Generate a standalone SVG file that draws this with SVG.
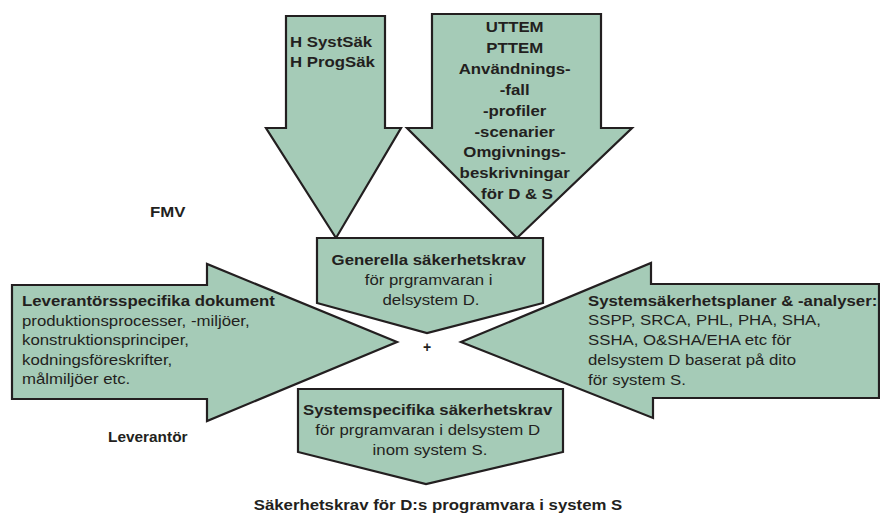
<svg xmlns="http://www.w3.org/2000/svg" width="880" height="513" viewBox="0 0 880 513">
  <style>
    .shape { fill: #a5cbb7; stroke: #231f20; stroke-width: 2.2; stroke-linejoin: miter; }
    text { font-family: "Liberation Sans", Arial, sans-serif; font-size: 14px; fill: #231f20; }
    .b { font-weight: bold; }
    .mid { text-anchor: middle; }
  </style>
  <rect width="880" height="513" fill="#ffffff"/>

  <!-- Top left input arrow -->
  <g id="node-hsyst">
    <polygon class="shape" points="286,16 385,16 385,128 401,128 336,238 266,128 286,128"/>
    <text class="b" transform="translate(290 0) scale(1.2 1)">
      <tspan x="0" y="47">H SystSäk</tspan>
      <tspan x="0" y="67">H ProgSäk</tspan>
    </text>
  </g>

  <!-- Top right input arrow -->
  <g id="node-uttem">
    <polygon class="shape" points="432,14 601,14 601,128 632,128 517,238 407,128 432,128"/>
    <text class="b mid" transform="translate(517 0) scale(1.2 1)">
      <tspan x="0" y="32.3">UTTEM</tspan>
      <tspan x="0" y="53.2">PTTEM</tspan>
      <tspan x="0" y="74">Användnings-</tspan>
      <tspan x="0" y="94.9">-fall</tspan>
      <tspan x="0" y="115.8">-profiler</tspan>
      <tspan x="0" y="136.6">-scenarier</tspan>
      <tspan x="0" y="157.5">Omgivnings-</tspan>
      <tspan x="0" y="178.4">beskrivningar</tspan>
      <tspan x="0" y="199.3">för D &amp; S</tspan>
    </text>
  </g>

  <!-- Supplier input arrow -->
  <g id="node-leverantor-docs">
    <polygon class="shape" points="12,285 207,285 207,264 397,342 207,421 207,399 12,399"/>
    <text transform="translate(22 0) scale(1.2 1)">
      <tspan class="b" x="0" y="306.5">Leverantörsspecifika dokument</tspan>
      <tspan x="0" y="326">produktionsprocesser, -miljöer,</tspan>
      <tspan x="0" y="345.5">konstruktionsprinciper,</tspan>
      <tspan x="0" y="365">kodningsföreskrifter,</tspan>
      <tspan x="0" y="384.5">målmiljöer etc.</tspan>
    </text>
  </g>

  <!-- System safety input arrow -->
  <g id="node-systemsakerhet">
    <polygon class="shape" points="879,284 651,284 651,263 461,342 653,418 653,398 879,398"/>
    <text transform="translate(588 0) scale(1.2 1)">
      <tspan class="b" x="0" y="306">Systemsäkerhetsplaner &amp; -analyser:</tspan>
      <tspan x="0" y="325.5">SSPP, SRCA, PHL, PHA, SHA,</tspan>
      <tspan x="0" y="345">SSHA, O&amp;SHA/EHA etc för</tspan>
      <tspan x="0" y="365">delsystem D baserat på dito</tspan>
      <tspan x="0" y="385">för system S.</tspan>
    </text>
  </g>

  <!-- General requirements -->
  <g id="node-generella">
    <polygon class="shape" points="317,238 543,238 543,303 427,333 317,303"/>
    <text class="mid" transform="translate(431 0) scale(1.2 1)">
      <tspan class="b" x="0" y="265">Generella säkerhetskrav</tspan>
      <tspan x="0" y="285">för prgramvaran i</tspan>
      <tspan x="0" y="305">delsystem D.</tspan>
    </text>
  </g>

  <!-- System specific requirements -->
  <g id="node-systemspecifika">
    <polygon class="shape" points="298,389 563,389 563,452 426,484 298,452"/>
    <text class="mid" transform="translate(430 0) scale(1.2 1)">
      <tspan class="b" x="0" y="415">Systemspecifika säkerhetskrav</tspan>
      <tspan x="0" y="435">för prgramvaran i delsystem D</tspan>
      <tspan x="0" y="455">inom system S.</tspan>
    </text>
  </g>

  <!-- Free labels -->
  <g id="labels">
    <text class="b" transform="translate(150 217) scale(1.2 1)">FMV</text>
    <text class="b" transform="translate(108 442) scale(1.1 1)">Leverantör</text>
    <text class="b mid" x="427" y="352">+</text>
    <text class="b mid" transform="translate(438 510) scale(1.2 1)">Säkerhetskrav för D:s programvara i system S</text>
  </g>

  <g id="connectors"/>
</svg>
